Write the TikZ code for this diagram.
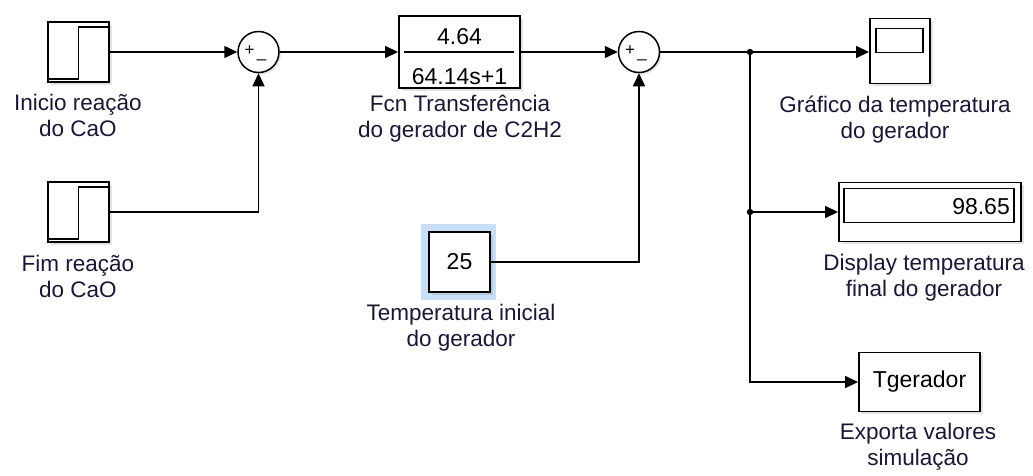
\documentclass[tikz,border=0pt]{standalone}
\usepackage{fontspec}
\setmainfont{Liberation Sans}
\usepackage{tikz}
\usetikzlibrary{arrows.meta, positioning, calc, shadows}
\definecolor{lblink}{RGB}{28,22,52}
\definecolor{selblue}{RGB}{200,221,246}
\newcommand{\lblfont}{\fontsize{22.5}{26}\selectfont}
\newcommand{\blkfont}{\fontsize{23}{27}\selectfont}
\newcommand{\sgnfont}{\fontsize{17}{19}\selectfont}
\tikzset{
  block/.style={rectangle, draw=black, fill=white, line width=1.9pt,
    inner sep=0pt, font=\blkfont,
    drop shadow={shadow xshift=2.5pt, shadow yshift=-2.5pt, opacity=0.22}},
  sumjunc/.style={circle, draw=black, fill=white, minimum size=41pt,
    inner sep=0pt, line width=1.5pt,
    drop shadow={shadow xshift=2pt, shadow yshift=-2pt, opacity=0.22}},
  selbox/.style={rectangle, fill=selblue, minimum width=75pt,
    minimum height=76pt, inner sep=0pt},
  lbl/.style={align=center, font=\lblfont, text=lblink, inner sep=0pt},
  arrow/.style={-{Triangle[length=13pt,width=12pt]}, line width=1.5pt},
  line/.style={line width=1.5pt}
}

\begin{document}
\begin{tikzpicture}[x=1pt, y=-1pt]
  \useasboundingbox (0,0) rectangle (1033,475);

  % Sources
  \node[block, minimum width=61pt, minimum height=60pt] (step1) at (78.5,52) {};
  \node[block, minimum width=61pt, minimum height=60pt] (step2) at (78.5,212) {};
  \foreach \s in {step1,step2}
    \draw[line width=1.6pt] ($(\s.south west)+(0,-4)$) -| ($(\s.north)+(0,6)$)
      -- ($(\s.north east)+(0,6)$);
  \node[selbox] (constsel) at (458.5,262) {};
  \node[block, minimum width=61pt, minimum height=60pt] (const) at (459.5,262) {25};

  % Sums and transfer function
  \node[sumjunc] (sum1) at (258.5,52) {};
  \node[sumjunc] (sum2) at (639,52) {};
  \foreach \s in {sum1,sum2} {
    \node[font=\sgnfont] at ($(\s.center)+(-9,-1)$) {+};
    \node[font=\sgnfont] at ($(\s.center)+(3,7)$) {\_};
  }
  \node[block, minimum width=121pt, minimum height=72pt] (tf) at (459.5,52) {};
  \node[font=\blkfont, inner sep=0pt] (tfnum) at (459.5,37) {4.64};
  \node[font=\blkfont, inner sep=0pt] (tfden) at (459.5,77) {64.14s+1};
  \draw[line] ($(tf.west)+(6,0)$) -- ($(tf.east)+(-7,0)$);

  % Sinks
  \node[block, minimum width=60pt, minimum height=65pt] (scope) at (900,51) {};
  \draw[line width=1.6pt] ($(scope.north west)+(7,11)$) rectangle ($(scope.north east)+(-8,35)$);
  \node[block, minimum width=182pt, minimum height=59pt] (disp) at (930,212) {};
  \draw[line width=1.6pt] ($(disp.north west)+(6,7)$) rectangle ($(disp.north east)+(-8,41)$);
  \node[font=\blkfont, inner sep=0pt, anchor=east] (dispval) at (1010,207) {98.65};
  \node[block, minimum width=121pt, minimum height=59pt] (towks) at (919.5,382) {Tgerador};

  % Labels
  \node[lbl] (step1lbl) at (78,115) {Inicio reação\\do CaO};
  \node[lbl] (step2lbl) at (78,276) {Fim reação\\do CaO};
  \node[lbl] (tflbl) at (460,119) {Fcn Transferência\\do gerador de C2H2};
  \node[lbl] (constlbl) at (461,328) {Temperatura inicial\\do gerador};
  \node[lbl] (scopelbl) at (895,120) {Gráfico da temperatura\\do gerador};
  \node[lbl] (displbl) at (924,278) {Display temperatura\\final do gerador};
  \node[lbl] (towkslbl) at (918,447) {Exporta valores\\simulação};

  % Paths
  \coordinate (br1) at (750,52);
  \coordinate (br2) at (750,212);
  \draw[arrow] (step1) -- (sum1);
  \draw[arrow] (step2.east) -| (sum1.south);
  \draw[arrow] (sum1) -- (tf);
  \draw[arrow] (tf) -- (sum2);
  \draw[arrow] (const.east) -| (sum2.south);
  \draw[line] (sum2.east) -- (br1);
  \draw[arrow] (br1) -- (br1 -| scope.west);
  \draw[line] (br1) -- (br2);
  \draw[arrow] (br2) -- (br2 -| disp.west);
  \draw[arrow] (br2) |- (towks.west);
  \fill (br1) circle (3.2pt);
  \fill (br2) circle (3.2pt);
\end{tikzpicture}
\end{document}
